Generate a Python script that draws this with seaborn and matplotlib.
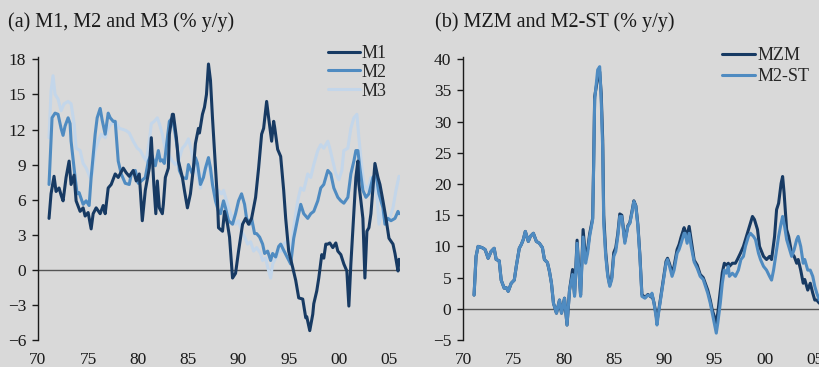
import matplotlib
matplotlib.use("Agg")
import matplotlib.pyplot as plt
import pandas as pd
import seaborn as sns

# ---------------- Panel (a): M1, M2, M3 growth, % y/y ----------------
m1_year = [1971.1, 1971.3, 1971.6, 1971.8, 1972.1, 1972.3, 1972.5, 1972.8, 1973.1, 1973.3,
           1973.6, 1973.8, 1974.2, 1974.5, 1974.7, 1975.0, 1975.3, 1975.5, 1975.8, 1976.2,
           1976.5, 1976.7, 1977.0, 1977.3, 1977.7, 1978.0, 1978.5, 1978.8, 1979.1, 1979.5,
           1979.8, 1980.1, 1980.4, 1980.7, 1981.1, 1981.3, 1981.55, 1981.75, 1981.9, 1982.1,
           1982.4, 1982.5, 1982.7, 1983.0, 1983.1, 1983.4, 1983.5, 1983.8, 1984.0, 1984.4,
           1984.6, 1984.9, 1985.2, 1985.5, 1985.7, 1986.0, 1986.1, 1986.4, 1986.6, 1986.8,
           1987.0, 1987.2, 1987.4, 1987.7, 1987.9, 1988.0, 1988.4, 1988.6, 1988.9, 1989.1,
           1989.4, 1989.7, 1990.0, 1990.4, 1990.7, 1991.0, 1991.3, 1991.7, 1992.0, 1992.3,
           1992.5, 1992.8, 1993.0, 1993.3, 1993.5, 1993.6, 1993.9, 1994.2, 1994.5, 1994.7,
           1995.0, 1995.4, 1995.7, 1996.0, 1996.4, 1996.7, 1996.8, 1997.1, 1997.4, 1997.5,
           1997.8, 1998.0, 1998.3, 1998.5, 1998.7, 1998.9, 1999.1, 1999.4, 1999.7, 1999.9,
           2000.2, 2000.5, 2000.8, 2001.0, 2001.2, 2001.5, 2001.7, 2001.9, 2002.0, 2002.2,
           2002.4, 2002.6, 2002.8, 2003.0, 2003.2, 2003.4, 2003.6, 2003.9, 2004.1, 2004.4,
           2004.7, 2005.0, 2005.4, 2005.6, 2005.9, 2006.0]
m1_vals = [4.4, 6.5, 8.0, 6.7, 7.0, 6.4, 5.9, 7.9, 9.3, 7.3,
           8.1, 5.9, 5.0, 5.3, 4.6, 4.9, 3.5, 4.8, 5.3, 4.8,
           5.5, 4.8, 7.0, 7.3, 8.2, 7.9, 8.7, 8.3, 8.0, 8.5,
           7.6, 8.2, 4.2, 6.8, 8.7, 11.3, 7.3, 4.8, 7.6, 5.3,
           4.8, 5.6, 7.9, 8.7, 11.6, 13.3, 13.3, 11.3, 9.3, 7.9,
           6.8, 5.3, 6.5, 8.7, 10.8, 12.1, 11.7, 13.3, 13.9, 15.0,
           17.6, 16.2, 13.0, 8.7, 5.9, 3.6, 3.3, 5.0, 3.9, 2.8,
           -0.7, -0.3, 1.6, 3.9, 4.4, 3.9, 4.4, 6.2, 8.7, 11.6,
           12.1, 14.4, 13.0, 11.0, 12.7, 12.2, 10.3, 9.7, 6.8, 4.4,
           1.6, 0.2, -0.9, -2.4, -2.5, -4.1, -4.0, -5.2, -3.8, -2.9,
           -1.8, -0.7, 1.3, 1.0, 2.2, 2.2, 2.3, 1.9, 2.3, 1.6,
           1.3, 0.5, -0.1, -3.1, 0.5, 5.0, 7.9, 9.3, 7.3, 5.9,
           4.4, -0.7, 3.3, 3.6, 4.8, 7.0, 9.1, 7.9, 7.3, 5.9,
           4.4, 2.7, 2.2, 1.4, -0.1, 0.9]

m2_year = [1971.1, 1971.4, 1971.7, 1972.0, 1972.3, 1972.5, 1972.7, 1973.0, 1973.2, 1973.3,
           1973.7, 1973.9, 1974.1, 1974.5, 1974.8, 1975.1, 1975.3, 1975.7, 1975.9, 1976.2,
           1976.4, 1976.7, 1977.0, 1977.2, 1977.5, 1977.7, 1978.0, 1978.3, 1978.7, 1979.1,
           1979.3, 1979.7, 1980.0, 1980.3, 1980.7, 1981.0, 1981.3, 1981.7, 1982.0, 1982.2,
           1982.4, 1982.6, 1983.1, 1983.4, 1983.6, 1983.9, 1984.1, 1984.4, 1984.8, 1985.0,
           1985.4, 1985.7, 1985.9, 1986.2, 1986.5, 1986.7, 1987.0, 1987.2, 1987.4, 1987.7,
           1988.0, 1988.2, 1988.5, 1988.7, 1989.0, 1989.4, 1989.7, 1990.0, 1990.3, 1990.6,
           1990.8, 1991.1, 1991.3, 1991.6, 1991.8, 1992.1, 1992.4, 1992.6, 1992.9, 1993.2,
           1993.4, 1993.7, 1994.0, 1994.2, 1994.6, 1994.9, 1995.2, 1995.5, 1995.9, 1996.2,
           1996.5, 1996.9, 1997.2, 1997.5, 1997.9, 1998.2, 1998.5, 1998.9, 1999.2, 1999.5,
           1999.9, 2000.2, 2000.5, 2000.9, 2001.2, 2001.5, 2001.7, 2001.9, 2002.1, 2002.4,
           2002.7, 2003.0, 2003.4, 2003.7, 2004.0, 2004.4, 2004.6, 2004.9, 2005.2, 2005.6,
           2005.9, 2006.0]
m2_vals = [7.3, 13.0, 13.4, 13.3, 12.1, 11.5, 12.3, 13.0, 12.5, 11.0,
           7.9, 6.5, 6.6, 5.6, 5.9, 5.5, 7.9, 11.6, 13.0, 13.8,
           12.8, 11.6, 13.4, 13.0, 12.7, 12.7, 9.3, 8.2, 7.4, 7.3,
           8.2, 8.5, 7.4, 7.6, 7.9, 9.3, 9.9, 8.9, 10.2, 9.3,
           9.4, 9.1, 12.7, 13.0, 12.1, 10.4, 8.5, 7.9, 7.8, 9.0,
           8.2, 9.6, 9.1, 7.3, 7.9, 8.7, 9.6, 8.7, 7.3, 5.9,
           5.0, 4.8, 5.9, 5.3, 4.2, 3.9, 4.8, 5.9, 6.5, 5.6,
           4.4, 3.9, 4.4, 3.1, 3.1, 2.8, 2.2, 1.4, 1.6, 0.8,
           1.4, 1.1, 2.0, 2.2, 1.5, 1.0, 0.5, 2.7, 4.4, 5.6,
           4.8, 4.4, 4.8, 5.0, 5.9, 7.0, 7.3, 8.5, 8.2, 7.0,
           6.2, 5.9, 5.7, 6.2, 8.2, 9.3, 10.2, 10.2, 8.7, 6.8,
           6.2, 6.5, 7.9, 8.2, 6.5, 5.3, 3.9, 4.4, 4.2, 4.4,
           5.0, 4.8]

m3_year = [1971.1, 1971.3, 1971.5, 1971.7, 1972.0, 1972.3, 1972.6, 1973.0, 1973.3, 1973.6,
           1973.8, 1974.2, 1974.5, 1974.8, 1975.2, 1975.4, 1975.7, 1976.0, 1976.3, 1976.7,
           1977.0, 1977.3, 1977.8, 1978.1, 1978.5, 1978.8, 1979.1, 1979.5, 1979.9, 1980.2,
           1980.5, 1980.8, 1981.1, 1981.3, 1981.6, 1981.9, 1982.1, 1982.4, 1982.7, 1983.0,
           1983.4, 1983.7, 1984.0, 1984.4, 1984.7, 1985.0, 1985.3, 1985.6, 1986.0, 1986.2,
           1986.5, 1986.8, 1987.0, 1987.3, 1987.5, 1987.8, 1988.0, 1988.3, 1988.5, 1988.7,
           1989.0, 1989.4, 1989.7, 1990.0, 1990.3, 1990.6, 1990.9, 1991.2, 1991.5, 1991.8,
           1992.2, 1992.4, 1992.7, 1993.0, 1993.2, 1993.4, 1993.7, 1994.0, 1994.3, 1994.5,
           1994.9, 1995.2, 1995.5, 1995.9, 1996.2, 1996.5, 1996.9, 1997.2, 1997.5, 1997.9,
           1998.2, 1998.5, 1998.9, 1999.1, 1999.4, 1999.7, 2000.0, 2000.3, 2000.5, 2000.9,
           2001.2, 2001.5, 2001.8, 2002.0, 2002.3, 2002.5, 2002.9, 2003.2, 2003.5, 2003.8,
           2004.0, 2004.3, 2004.7, 2005.0, 2005.4, 2005.7, 2006.0]
m3_vals = [11.3, 15.3, 16.6, 15.0, 14.6, 13.6, 14.2, 14.4, 14.2, 12.5,
           10.4, 10.2, 9.1, 8.7, 7.9, 8.2, 10.2, 11.0, 11.6, 11.3,
           12.1, 12.5, 12.6, 12.1, 12.0, 11.9, 11.7, 11.0, 10.4, 10.2,
           9.7, 9.3, 11.0, 12.5, 12.7, 13.0, 12.5, 11.6, 10.2, 9.9,
           9.3, 9.0, 9.3, 10.4, 10.7, 11.2, 10.2, 8.7, 7.9, 7.0,
           8.2, 9.0, 9.0, 7.9, 7.0, 6.2, 6.8, 6.5, 6.8, 6.2,
           5.3, 4.4, 3.9, 4.2, 3.3, 2.8, 2.2, 2.4, 1.6, 1.9,
           1.4, 0.8, 1.0, -0.1, -0.7, 0.5, 1.0, 1.6, 1.6, 2.2,
           2.5, 1.0, 3.6, 5.9, 7.0, 6.8, 8.2, 7.9, 9.0, 10.2,
           10.7, 10.4, 11.0, 10.4, 9.3, 8.2, 7.7, 8.5, 10.2, 10.4,
           12.1, 13.0, 13.3, 11.3, 8.7, 7.3, 6.8, 7.9, 7.3, 6.5,
           3.9, 5.0, 3.9, 4.2, 5.3, 6.8, 8.0]

# ---------------- Panel (b): MZM and M2-ST growth, % y/y ----------------
st_year = [1971.1, 1971.3, 1971.5, 1971.9, 1972.2, 1972.5, 1972.8, 1973.1, 1973.3, 1973.6,
           1973.8, 1974.1, 1974.3, 1974.5, 1974.8, 1975.1, 1975.3, 1975.6, 1975.8, 1976.0,
           1976.2, 1976.5, 1976.7, 1977.0, 1977.3, 1977.6, 1977.9, 1978.1, 1978.4, 1978.6,
           1978.8, 1979.0, 1979.3, 1979.6, 1979.8, 1980.1, 1980.35, 1980.6, 1980.9, 1981.1,
           1981.35, 1981.55, 1981.7, 1981.95, 1982.2, 1982.4, 1982.6, 1982.9, 1983.0, 1983.1,
           1983.4, 1983.6, 1983.75, 1983.9, 1984.0, 1984.2, 1984.4, 1984.6, 1984.8, 1985.0,
           1985.2, 1985.4, 1985.6, 1985.8, 1985.95, 1986.1, 1986.4, 1986.6, 1986.8, 1987.0,
           1987.2, 1987.4, 1987.6, 1987.8, 1988.1, 1988.4, 1988.7, 1988.8, 1989.0, 1989.2,
           1989.3, 1989.5, 1989.8, 1990.0, 1990.2, 1990.35, 1990.55, 1990.8, 1991.0, 1991.3,
           1991.5, 1991.7, 1992.0, 1992.1, 1992.3, 1992.5, 1992.7, 1993.0, 1993.3, 1993.6,
           1993.9, 1994.35, 1994.6, 1994.8, 1995.0, 1995.2, 1995.35, 1995.6, 1995.8, 1996.0,
           1996.2, 1996.4, 1996.5, 1996.8, 1997.1, 1997.4, 1997.65, 1997.9, 1998.1, 1998.4,
           1998.6, 1998.9, 1999.1, 1999.4, 1999.6, 1999.9, 2000.2, 2000.5, 2000.7, 2000.9,
           2001.2, 2001.4, 2001.65, 2001.8, 2002.0, 2002.2, 2002.5, 2002.7, 2002.95, 2003.2,
           2003.35, 2003.6, 2003.85, 2004.0, 2004.3, 2004.55, 2004.8, 2005.0, 2005.2, 2005.45]
st_vals = [2.2, 8.4, 10.0, 9.8, 9.5, 8.1, 9.2, 9.7, 7.9, 7.7,
           4.6, 3.3, 3.4, 2.8, 4.1, 4.6, 6.8, 9.7, 10.3, 11.1,
           12.4, 10.8, 11.6, 12.1, 10.8, 10.5, 9.8, 7.9, 7.4, 6.0,
           4.1, 0.9, -0.7, 1.4, -0.7, 1.7, -2.6, 3.0, 5.5, 2.0,
           10.5, 5.5, 2.0, 11.5, 7.3, 8.9, 11.6, 14.3, 22.8, 33.5,
           38.3, 38.8, 33.5, 25.5, 13.7, 8.4, 5.2, 3.6, 4.7, 8.4,
           9.2, 11.6, 14.8, 14.8, 12.7, 10.5, 13.2, 13.7, 15.3, 17.2,
           16.4, 13.2, 8.4, 2.0, 1.7, 2.2, 2.0, 2.5, 0.9, -1.2,
           -2.6, -0.2, 3.0, 5.2, 7.3, 7.9, 6.8, 5.2, 6.2, 8.9,
           9.5, 10.5, 12.1, 12.1, 10.5, 12.1, 10.0, 7.5, 6.5, 5.2,
           4.7, 2.5, 0.9, -0.7, -2.3, -3.9, -2.3, 0.9, 4.1, 6.2,
           5.7, 6.8, 5.2, 5.7, 5.2, 6.2, 7.9, 8.4, 10.0, 11.6,
           12.1, 11.6, 11.1, 8.9, 7.9, 6.8, 6.2, 5.2, 4.6, 6.2,
           9.5, 11.6, 13.7, 14.8, 13.2, 11.1, 9.5, 8.4, 9.5, 11.1,
           11.6, 10.0, 7.3, 7.9, 6.2, 6.2, 5.2, 3.6, 2.5, 1.4]

mzm_year = [1971.1, 1971.3, 1971.5, 1971.9, 1972.2, 1972.5, 1972.8, 1973.1, 1973.3, 1973.6,
            1973.8, 1974.1, 1974.3, 1974.5, 1974.8, 1975.1, 1975.3, 1975.6, 1975.8, 1976.0,
            1976.2, 1976.5, 1976.7, 1977.0, 1977.3, 1977.6, 1977.9, 1978.1, 1978.4, 1978.6,
            1978.8, 1979.0, 1979.3, 1979.6, 1979.8, 1980.1, 1980.35, 1980.6, 1980.9, 1981.1,
            1981.35, 1981.55, 1981.7, 1981.95, 1982.2, 1982.4, 1982.6, 1982.9, 1983.0, 1983.1,
            1983.4, 1983.6, 1983.75, 1983.9, 1984.0, 1984.2, 1984.4, 1984.6, 1984.8, 1985.0,
            1985.2, 1985.4, 1985.6, 1985.8, 1985.95, 1986.1, 1986.4, 1986.6, 1986.8, 1987.0,
            1987.2, 1987.4, 1987.6, 1987.8, 1988.1, 1988.4, 1988.7, 1988.8, 1989.0, 1989.2,
            1989.3, 1989.5, 1989.8, 1990.0, 1990.2, 1990.35, 1990.55, 1990.8, 1991.0, 1991.3,
            1991.5, 1991.7, 1992.0, 1992.1, 1992.3, 1992.5, 1992.7, 1993.0, 1993.3, 1993.6,
            1993.9, 1994.35, 1994.6, 1994.8, 1995.0, 1995.2, 1995.35, 1995.6, 1995.8, 1996.0,
            1996.2, 1996.4, 1996.5, 1996.8, 1997.1, 1997.3, 1997.6, 1997.9, 1998.2, 1998.5,
            1998.8, 1999.0, 1999.3, 1999.5, 1999.9, 2000.2, 2000.5, 2000.7, 2001.0, 2001.2,
            2001.4, 2001.65, 2001.8, 2001.95, 2002.2, 2002.4, 2002.7, 2002.95, 2003.2, 2003.35,
            2003.6, 2003.85, 2004.0, 2004.3, 2004.55, 2004.8, 2005.0, 2005.2, 2005.45]
mzm_vals = [2.2, 8.4, 10.0, 9.8, 9.5, 8.1, 9.2, 9.7, 7.9, 7.7,
            4.6, 3.3, 3.4, 2.8, 4.1, 4.6, 6.8, 9.7, 10.3, 11.1,
            12.4, 10.8, 11.6, 12.1, 10.8, 10.5, 9.8, 7.9, 7.4, 6.0,
            4.1, 0.9, -0.7, 1.4, -0.7, 1.7, -2.6, 3.0, 6.3, 2.2,
            11.0, 5.8, 2.2, 12.7, 8.0, 9.5, 12.0, 14.5, 23.5, 34.0,
            37.0, 38.0, 34.5, 27.0, 15.0, 9.0, 5.5, 3.8, 5.0, 9.0,
            9.8, 12.0, 15.2, 15.0, 13.0, 10.8, 13.3, 13.8, 15.5, 17.3,
            16.5, 13.5, 8.6, 2.3, 1.8, 2.3, 1.9, 2.3, 1.0, -0.8,
            -2.0, 0.0, 3.3, 5.6, 7.6, 8.1, 7.2, 5.8, 6.8, 9.5,
            10.3, 11.5, 13.0, 12.5, 11.8, 13.2, 11.0, 7.8, 7.0, 5.5,
            5.0, 3.0, 1.4, -0.2, -1.2, -2.3, -0.7, 3.0, 5.8, 7.3,
            7.0, 7.3, 6.8, 7.3, 7.3, 7.9, 8.9, 10.0, 11.6, 13.2,
            14.8, 14.3, 12.7, 10.0, 8.4, 7.9, 8.4, 7.9, 11.6, 15.9,
            16.9, 20.1, 21.2, 18.5, 12.7, 11.6, 8.9, 8.4, 7.3, 7.9,
            6.2, 4.1, 4.7, 3.0, 4.1, 2.5, 1.4, 1.4, 0.9]

# Axis ticks and labels
x_ticks = [1970, 1975, 1980, 1985, 1990, 1995, 2000, 2005]
x_labels = ["70", "75", "80", "85", "90", "95", "00", "05"]
ya_ticks = [-6, -3, 0, 3, 6, 9, 12, 15, 18]
yb_ticks = [-5, 0, 5, 10, 15, 20, 25, 30, 35, 40]

title_a = "(a) M1, M2 and M3 (% y/y)"
title_b = "(b) MZM and M2-ST (% y/y)"

BG = "#D9D9D9"
C_DARK = "#173A63"
C_MID = "#4F8BC1"
C_LIGHT = "#C3D6EA"
INK = "#1A1A1A"

sns.set_theme(style="white")
plt.rcParams["font.family"] = ["Liberation Serif", "DejaVu Serif"]
plt.rcParams["axes.unicode_minus"] = True

W, H = 819, 367
fig = plt.figure(figsize=(W / 100, H / 100), dpi=100, facecolor=BG)


def frac_box(left_px, right_px, top_px, bottom_px):
    return [left_px / W, (H - bottom_px) / H, (right_px - left_px) / W, (bottom_px - top_px) / H]


ax_a = fig.add_axes(frac_box(38, 400, 57, 340))
ax_b = fig.add_axes(frac_box(463, 819, 57, 340))

LW = 2.2
series_a = [("M3", m3_year, m3_vals, C_LIGHT),
            ("M2", m2_year, m2_vals, C_MID),
            ("M1", m1_year, m1_vals, C_DARK)]
for name, yr, vals, col in series_a:
    df = pd.DataFrame({"year": yr, "value": vals})
    sns.lineplot(data=df, x="year", y="value", ax=ax_a, color=col, lw=LW,
                 label=name, legend=False, zorder=3)

series_b = [("MZM", mzm_year, mzm_vals, C_DARK),
            ("M2-ST", st_year, st_vals, C_MID)]
for name, yr, vals, col in series_b:
    df = pd.DataFrame({"year": yr, "value": vals})
    sns.lineplot(data=df, x="year", y="value", ax=ax_b, color=col, lw=LW,
                 label=name, legend=False, zorder=3)

for ax, yt, ylim, xlim in [(ax_a, ya_ticks, (-6, 18.2), (1970, 2006.1)),
                           (ax_b, yb_ticks, (-5, 40.35), (1970, 2005.42))]:
    ax.set_facecolor(BG)
    ax.set_xlim(*xlim)
    ax.set_ylim(*ylim)
    ax.axhline(0, color="#555555", lw=1.0, zorder=2)
    ax.set_xticks(x_ticks)
    ax.set_xticklabels(x_labels)
    ax.set_yticks(yt)
    ax.set_xlabel("")
    ax.set_ylabel("")
    for s in ["top", "right", "bottom"]:
        ax.spines[s].set_visible(False)
    ax.spines["left"].set_color(INK)
    ax.spines["left"].set_linewidth(1.0)
    ax.tick_params(axis="y", left=True, length=4.5, width=1.0, color=INK,
                   labelsize=12.5, labelcolor=INK, pad=4, direction="out")
    ax.tick_params(axis="x", bottom=False, length=0, labelsize=12.5,
                   labelcolor=INK, pad=9)
    for lbl in ax.get_xticklabels() + ax.get_yticklabels():
        lbl.set_clip_on(False)

fig.text(8 / W, 1 - 22 / H, title_a, fontsize=14.5, color=INK, va="center", ha="left")
fig.text(435 / W, 1 - 22 / H, title_b, fontsize=14.5, color=INK, va="center", ha="left")

# Legends, entries listed with the darkest series first
h_a = {l.get_label(): l for l in ax_a.get_lines()}
ax_a.legend([h_a["M1"], h_a["M2"], h_a["M3"]], ["M1", "M2", "M3"],
            loc="upper left", bbox_to_anchor=(328 / W, 1 - 45 / H),
            bbox_transform=fig.transFigure, frameon=False, fontsize=13,
            handlelength=1.75, handletextpad=0.1, labelspacing=0.1,
            borderpad=0, borderaxespad=0)
h_b = {l.get_label(): l for l in ax_b.get_lines()}
ax_b.legend([h_b["MZM"], h_b["M2-ST"]], ["MZM", "M2-ST"],
            loc="upper left", bbox_to_anchor=(722 / W, 1 - 47 / H),
            bbox_transform=fig.transFigure, frameon=False, fontsize=13,
            handlelength=1.8, handletextpad=0.15, labelspacing=0.22,
            borderpad=0, borderaxespad=0)

fig.savefig("out.png", dpi=100, facecolor=BG)
